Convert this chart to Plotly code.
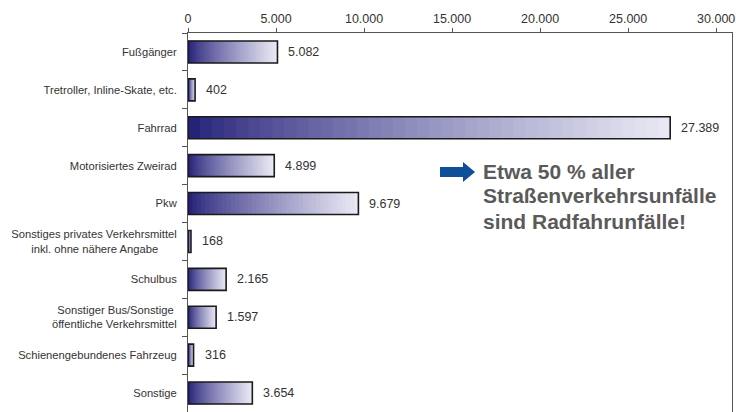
import plotly.graph_objects as go

categories = [
    "Fußgänger",
    "Tretroller, Inline-Skate, etc.",
    "Fahrrad",
    "Motorisiertes Zweirad",
    "Pkw",
    "Sonstiges privates Verkehrsmittel<br>inkl. ohne nähere Angabe" + "\u00a0" * 6,
    "Schulbus",
    "Sonstiger Bus/Sonstige\u00a0<br>öffentliche Verkehrsmittel",
    "Schienengebundenes Fahrzeug",
    "Sonstige",
]
values = [5082, 402, 27389, 4899, 9679, 168, 2165, 1597, 316, 3654]
x_tickvals = [0, 5000, 10000, 15000, 20000, 25000, 30000]
note_lines = ["Etwa 50 % aller", "Straßenverkehrsunfälle", "sind Radfahrunfälle!"]
note_y_px = [172, 196, 221]

N = 40
c0 = (38, 34, 122)
c1 = (232, 232, 244)

def lerp(t):
    t2 = t ** 0.8
    return "rgb(%d,%d,%d)" % tuple(round(a + (b - a) * t2) for a, b in zip(c0, c1))

fig = go.Figure()
# gradient: overlapping bars from 0, longest (lightest) first
for i in range(N - 1, -1, -1):
    fig.add_trace(go.Bar(
        y=categories, x=[v * (i + 1) / N for v in values],
        orientation="h", width=0.58, marker=dict(color=lerp(i / (N - 1)), line=dict(width=0)),
        hoverinfo="skip", showlegend=False,
    ))
fig.add_trace(go.Bar(
    y=categories, x=values, orientation="h", width=0.58,
    marker=dict(color="rgba(0,0,0,0)", line=dict(color="#1a1a1a", width=1.6)),
    showlegend=False,
))

for c, v in zip(categories, values):
    fig.add_annotation(x=v, y=c, xref="x", yref="y", text=f"{v:,}".replace(",", "."),
                       showarrow=False, xanchor="left", xshift=9,
                       font=dict(family="Liberation Sans, Arial", size=12.5, color="#333333"))

fig.add_shape(type="path", xref="paper", yref="paper",
              path="M 0.4632 0.6464 L 0.5055 0.6464 L 0.5055 0.6596 L 0.5276 0.6332 "
                   "L 0.5055 0.6069 L 0.5055 0.6201 L 0.4632 0.6201 Z",
              fillcolor="#0e4f9a", line=dict(width=0))
for line, py in zip(note_lines, note_y_px):
    fig.add_annotation(xref="paper", yref="paper", x=(481 - 188) / 544, y=(412 - py) / 379,
                       xanchor="left", yanchor="middle", text=line, align="left", showarrow=False,
                       font=dict(family="Liberation Sans, Arial", size=21, color="#5a5a5a", weight="bold"))

fig.update_layout(
    width=736, height=412, barmode="overlay", separators=",.",
    margin=dict(l=188, r=4, t=33, b=0),
    paper_bgcolor="white", plot_bgcolor="white",
    font=dict(family="Liberation Sans, Arial", color="#333333"),
    xaxis=dict(side="top", range=[0, 30900], tickvals=x_tickvals, tickformat=",d",
               showgrid=False, zeroline=False, showline=True, linecolor="#555555", linewidth=1,
               ticks="outside", ticklen=4, tickcolor="#555555", tickfont=dict(size=12.5, color="#333333")),
    yaxis=dict(autorange="reversed", tickson="boundaries", ticks="outside", ticklen=5,
               ticklabelstandoff=8,
               tickcolor="#555555", showgrid=False, showline=True, linecolor="#555555", linewidth=1,
               mirror=True, tickfont=dict(size=11.2, color="#333333")),
)

fig.write_html("out.html")
